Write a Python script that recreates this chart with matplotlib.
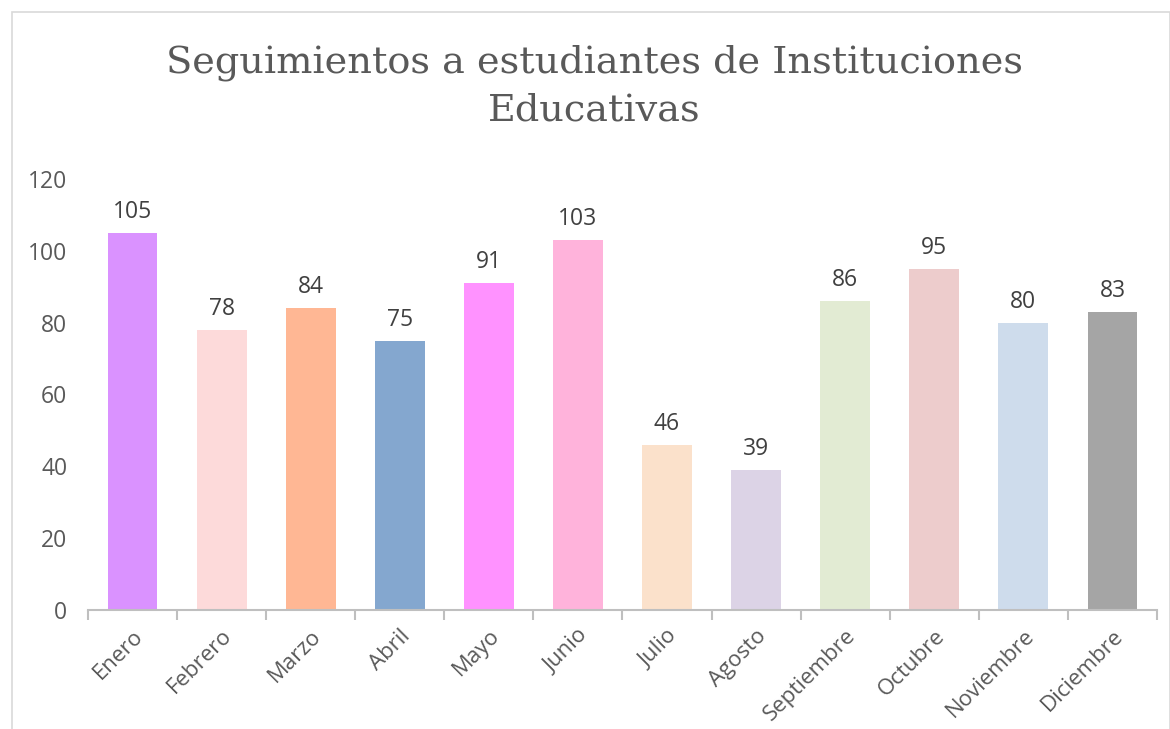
import matplotlib
matplotlib.use("Agg")
import matplotlib.pyplot as plt
from matplotlib.patches import Rectangle

# datos
meses = ["Enero", "Febrero", "Marzo", "Abril", "Mayo", "Junio", "Julio",
         "Agosto", "Septiembre", "Octubre", "Noviembre", "Diciembre"]
valores = [105, 78, 84, 75, 91, 103, 46, 39, 86, 95, 80, 83]
colores = ["#DA92FF", "#FDDADA", "#FFB794", "#84A7CF", "#FF92FF", "#FFB3DB",
           "#FBE1CB", "#DCD3E6", "#E2EBD3", "#EDCCCC", "#CEDCEC", "#A5A5A5"]
yticks = [0, 20, 40, 60, 80, 100, 120]

plt.rcParams['font.family'] = ['Open Sans', 'DejaVu Sans']

fig = plt.figure(figsize=(11.7, 7.29), dpi=100)
ax = fig.add_axes([0.0752, 0.1632, 0.9137, 0.5913])

x = range(len(meses))
ax.bar(x, valores, width=0.56, color=colores)
for i, v in enumerate(valores):
    ax.text(i, v + 2.5, str(v), ha="center", va="bottom", fontsize=16.5, color="#404040")

ax.set_xlim(-0.5, len(meses) - 0.5)
ax.set_ylim(0, 120)
ax.set_yticks(yticks)
ax.set_yticklabels([str(t) for t in yticks], fontsize=16.5, color="#595959")
ax.tick_params(axis="y", length=0, pad=15)

# ticks del eje x en los limites de categoria
ax.set_xticks([i - 0.5 for i in range(len(meses) + 1)], minor=False)
ax.set_xticklabels([])
ax.tick_params(axis="x", which="major", length=7, color="#BFBFBF", width=1.5)
ax.set_xticks(list(x), minor=True)
ax.set_xticklabels(meses, minor=True, rotation=45, ha="right", rotation_mode="anchor",
                   fontsize=16, color="#595959")
ax.tick_params(axis="x", which="minor", length=0, pad=11)

for s in ["top", "right", "left"]:
    ax.spines[s].set_visible(False)
ax.spines["bottom"].set_color("#BFBFBF")
ax.spines["bottom"].set_linewidth(1.5)

fig.text(0.508, 0.881, "Seguimientos a estudiantes de Instituciones\nEducativas",
         ha="center", va="center", fontsize=27.5, color="#595959",
         family=["DejaVu Serif"], linespacing=1.42)

# borde del grafico
fig.add_artist(Rectangle((0.0103, -0.01), 0.9897, 0.9935, transform=fig.transFigure,
                         fill=False, edgecolor="#D9D9D9", linewidth=1.2))

fig.savefig("out.png", dpi=100)
